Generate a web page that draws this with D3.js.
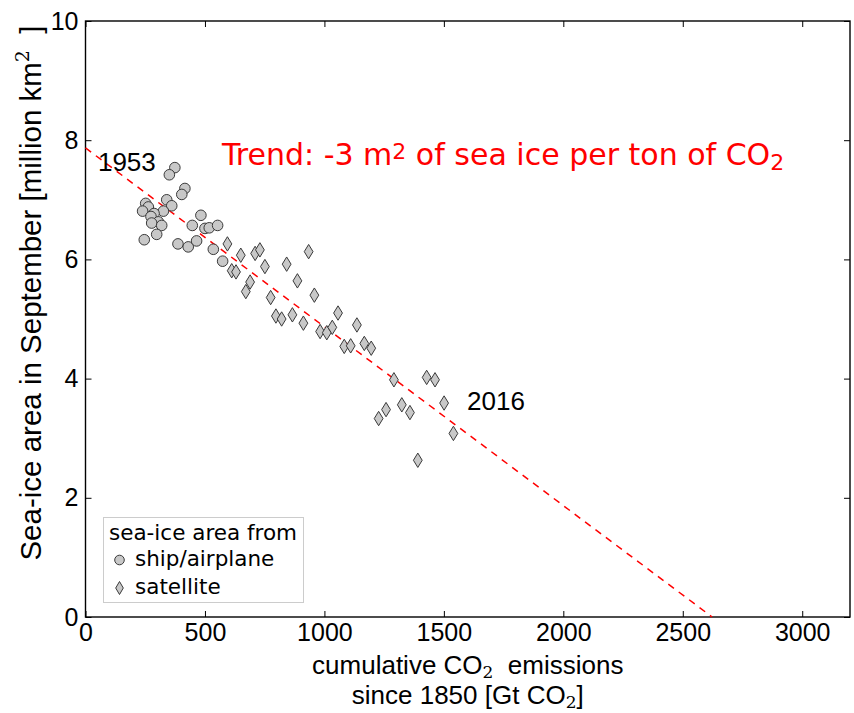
<!DOCTYPE html>
<html>
<head>
<meta charset="utf-8">
<script src="https://cdn.jsdelivr.net/npm/d3@7/dist/d3.min.js"></script>
<style>
  html, body { margin: 0; padding: 0; background: #fff; }
  svg { display: block; }
</style>
</head>
<body>
<svg id="chart" width="854" height="713"></svg>
<script>
// ---- data ----
const shipX = [374, 351, 416, 403, 340, 252, 361, 263, 239, 326, 287, 274, 483, 305, 277, 319, 447, 500, 518, 553, 298, 246, 387, 430, 465, 535, 574];
const shipY = [7.54, 7.42, 7.19, 7.09, 7.00, 6.94, 6.90, 6.88, 6.81, 6.81, 6.77, 6.72, 6.74, 6.63, 6.61, 6.57, 6.57, 6.52, 6.53, 6.57, 6.42, 6.33, 6.26, 6.21, 6.31, 6.17, 5.97];
const satX = [594, 650, 710, 730, 934, 751, 842, 612, 630, 689, 887, 671, 775, 958, 797, 821, 866, 912, 1057, 982, 1010, 1033, 1136, 1083, 1110, 1167, 1196, 1291, 1428, 1463, 1501, 1324, 1358, 1258, 1227, 1540, 1391];
const satY = [6.26, 6.07, 6.10, 6.16, 6.13, 5.88, 5.92, 5.81, 5.79, 5.62, 5.64, 5.46, 5.36, 5.40, 5.05, 5.00, 5.07, 4.93, 5.10, 4.79, 4.77, 4.86, 4.90, 4.54, 4.55, 4.59, 4.51, 3.98, 4.02, 3.98, 3.59, 3.56, 3.43, 3.48, 3.33, 3.08, 2.63];
const trendX = [0, 2623];
const trendY = [7.87, 0];
const xTicks = [0, 500, 1000, 1500, 2000, 2500, 3000];
const yTicks = [0, 2, 4, 6, 8, 10];
const xDomain = [0, 3200];
const yDomain = [0, 10];
const labelYears = [{text: "1953", x: 52, y: 7.48}, {text: "2016", x: 1597, y: 3.47}];
const trendLabelPos = {x: 571, y: 7.59};

// ---- layout ----
const svg = d3.select("#chart");
const L = 85.5, R = 850, T = 21, B = 617;
const x = d3.scaleLinear().domain(xDomain).range([L, R]);
const y = d3.scaleLinear().domain(yDomain).range([B, T]);
const sans = "'Liberation Sans', Arial, Helvetica, sans-serif";
const dejavu = "'DejaVu Sans', sans-serif";
const serif = "'DejaVu Serif', 'Liberation Serif', serif";
const markFill = "#c8c8c8", markStroke = "#3a3a3a";

// axes (inward ticks on all four sides)
function styleAxis(g, labels) {
  g.select(".domain").remove();
  g.selectAll(".tick line").attr("stroke", "#000").attr("stroke-width", 1);
  if (!labels) g.selectAll(".tick text").remove();
  else g.selectAll(".tick text").attr("font-family", sans).attr("font-size", 25).attr("fill", "#000");
}
svg.append("g").attr("transform", `translate(0,${B})`)
  .call(d3.axisBottom(x).tickValues(xTicks).tickFormat(d3.format("d")).tickSizeInner(-6).tickSizeOuter(0).tickPadding(6))
  .call(g => styleAxis(g, true));
svg.append("g").attr("transform", `translate(0,${T})`)
  .call(d3.axisTop(x).tickValues(xTicks).tickSizeInner(-6).tickSizeOuter(0))
  .call(g => styleAxis(g, false));
svg.append("g").attr("transform", `translate(${L},0)`)
  .call(d3.axisLeft(y).tickValues(yTicks).tickFormat(d3.format("d")).tickSizeInner(-6).tickSizeOuter(0).tickPadding(7))
  .call(g => styleAxis(g, true));
svg.append("g").attr("transform", `translate(${R},0)`)
  .call(d3.axisRight(y).tickValues(yTicks).tickSizeInner(-6).tickSizeOuter(0))
  .call(g => styleAxis(g, false));

// frame
svg.append("rect").attr("x", L).attr("y", T).attr("width", R - L).attr("height", B - T)
  .attr("fill", "none").attr("stroke", "#000").attr("stroke-width", 1.4);

// trend line
const trend = trendX.map((d, i) => [d, trendY[i]]);
svg.append("path").datum(trend)
  .attr("d", d3.line().x(d => x(d[0])).y(d => y(d[1])))
  .attr("fill", "none").attr("stroke", "#ff0000").attr("stroke-width", 1.5)
  .attr("stroke-dasharray", "7,6");

// ship/airplane circles
const ship = shipX.map((d, i) => [d, shipY[i]]);
svg.append("g").selectAll("circle").data(ship).join("circle")
  .attr("cx", d => x(d[0])).attr("cy", d => y(d[1])).attr("r", 5.3)
  .attr("fill", markFill).attr("stroke", markStroke).attr("stroke-width", 1);

// satellite thin diamonds
const sat = satX.map((d, i) => [d, satY[i]]);
const dw = 4.4, dh = 7.2;
svg.append("g").selectAll("path").data(sat).join("path")
  .attr("transform", d => `translate(${x(d[0])},${y(d[1])})`)
  .attr("d", `M0,${-dh}L${dw},0L0,${dh}L${-dw},0Z`)
  .attr("fill", markFill).attr("stroke", markStroke).attr("stroke-width", 1);

// year labels
svg.append("g").selectAll("text").data(labelYears).join("text")
  .attr("x", d => x(d.x)).attr("y", d => y(d.y))
  .attr("font-family", sans).attr("font-size", 26).attr("fill", "#000")
  .text(d => d.text);

// trend label
const tl = svg.append("text").attr("x", x(trendLabelPos.x)).attr("y", y(trendLabelPos.y))
  .attr("font-family", dejavu).attr("font-size", 30).attr("fill", "#ff0000");
tl.append("tspan").text("Trend: -3 m");
tl.append("tspan").attr("font-size", 22).attr("dy", -6).text("2");
tl.append("tspan").attr("dy", 6).text(" of sea ice per ton of CO");
tl.append("tspan").attr("font-size", 22).attr("dy", 5).text("2");

// x label
const xl1 = svg.append("text").attr("x", (L + R) / 2).attr("y", 674).attr("text-anchor", "middle")
  .attr("font-family", sans).attr("font-size", 26).attr("fill", "#000");
xl1.append("tspan").text("cumulative CO");
xl1.append("tspan").attr("font-family", serif).attr("font-size", 17).attr("dy", 4).text("2");
xl1.append("tspan").attr("dy", -4).text("\u00a0 emissions");
const xl2 = svg.append("text").attr("x", (L + R) / 2).attr("y", 704).attr("text-anchor", "middle")
  .attr("font-family", sans).attr("font-size", 26).attr("fill", "#000");
xl2.append("tspan").text("since 1850 [Gt CO");
xl2.append("tspan").attr("font-family", serif).attr("font-size", 17).attr("dy", 4).text("2");
xl2.append("tspan").attr("dy", -4).text("]");

// y label
const yl = svg.append("text").attr("transform", "translate(41,293) rotate(-90)").attr("text-anchor", "middle")
  .attr("font-family", sans).attr("font-size", 29.5).attr("fill", "#000");
yl.append("tspan").text("Sea-ice area in September [million km");
yl.append("tspan").attr("font-family", serif).attr("font-size", 19).attr("dy", -12).text("2");
yl.append("tspan").attr("dy", 12).text("\u00a0 ]");

// legend
const lg = svg.append("g");
lg.append("rect").attr("x", 103.5).attr("y", 517.5).attr("width", 200).attr("height", 85)
  .attr("fill", "#fff").attr("stroke", "#cccccc").attr("stroke-width", 1);
lg.append("text").attr("x", 109).attr("y", 540).attr("font-family", dejavu).attr("font-size", 21.5).attr("fill", "#000")
  .text("sea-ice area from");
lg.append("circle").attr("cx", 119.5).attr("cy", 560).attr("r", 4.8)
  .attr("fill", markFill).attr("stroke", markStroke).attr("stroke-width", 1);
lg.append("text").attr("x", 135).attr("y", 566).attr("font-family", dejavu).attr("font-size", 21.5).attr("fill", "#000")
  .text("ship/airplane");
lg.append("path").attr("transform", "translate(119.5,588)")
  .attr("d", `M0,-6.5L3.8,0L0,6.5L-3.8,0Z`)
  .attr("fill", markFill).attr("stroke", markStroke).attr("stroke-width", 1);
lg.append("text").attr("x", 135).attr("y", 594).attr("font-family", dejavu).attr("font-size", 21.5).attr("fill", "#000")
  .text("satellite");
</script>
</body>
</html>
